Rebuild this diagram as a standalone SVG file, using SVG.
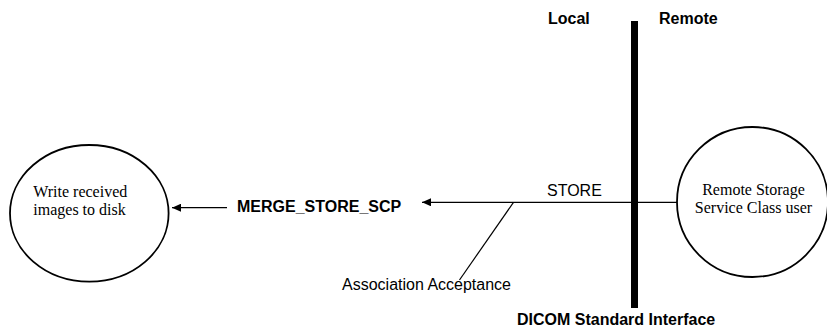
<svg xmlns="http://www.w3.org/2000/svg" width="827" height="327" viewBox="0 0 827 327">
<style>
.node{fill:#fff;stroke:#000;stroke-width:1.8}
.serif{font-family:"Liberation Serif","Times New Roman",serif;font-size:16px;fill:#000}
.sans{font-family:"Liberation Sans",Arial,sans-serif;font-size:16px;fill:#000}
.bold{font-weight:bold}
.conn{stroke:#000;stroke-width:1.2;fill:none}
</style>
<defs>
<marker id="arr" markerWidth="10" markerHeight="8" refX="9" refY="4" orient="auto" markerUnits="userSpaceOnUse">
<path d="M0,0 L9,4 L0,8 z" fill="#000"/>
</marker>
</defs>
<rect width="827" height="327" fill="#fff"/>
<g id="interface">
<rect x="631" y="21" width="7" height="287" fill="#000"/>
<text class="sans bold" x="548" y="24">Local</text>
<text class="sans bold" x="659" y="24">Remote</text>
<text class="sans bold" x="517" y="325">DICOM Standard Interface</text>
</g>
<g id="connectors">
<line class="conn" x1="677" y1="202.3" x2="422" y2="202.3" marker-end="url(#arr)"/>
<line class="conn" x1="227" y1="207.7" x2="172" y2="207.7" marker-end="url(#arr)"/>
<line class="conn" x1="513.5" y1="202.3" x2="459.5" y2="280" stroke-width="2"/>
<text class="sans" x="547" y="196">STORE</text>
<text class="sans" x="342" y="290">Association Acceptance</text>
</g>
<g id="write-node">
<ellipse class="node" cx="89.3" cy="213.3" rx="79.3" ry="68.3"/>
<text class="serif" x="33.3" y="197">Write received</text>
<text class="serif" x="33.3" y="215">images to disk</text>
</g>
<g id="merge-store-scp">
<text class="sans bold" x="237" y="212">MERGE_STORE_SCP</text>
</g>
<g id="remote-node">
<ellipse class="node" cx="752.5" cy="202" rx="75.5" ry="75"/>
<text class="serif" x="753.5" y="195" text-anchor="middle">Remote Storage</text>
<text class="serif" x="753.5" y="212.5" text-anchor="middle">Service Class user</text>
</g>
</svg>
